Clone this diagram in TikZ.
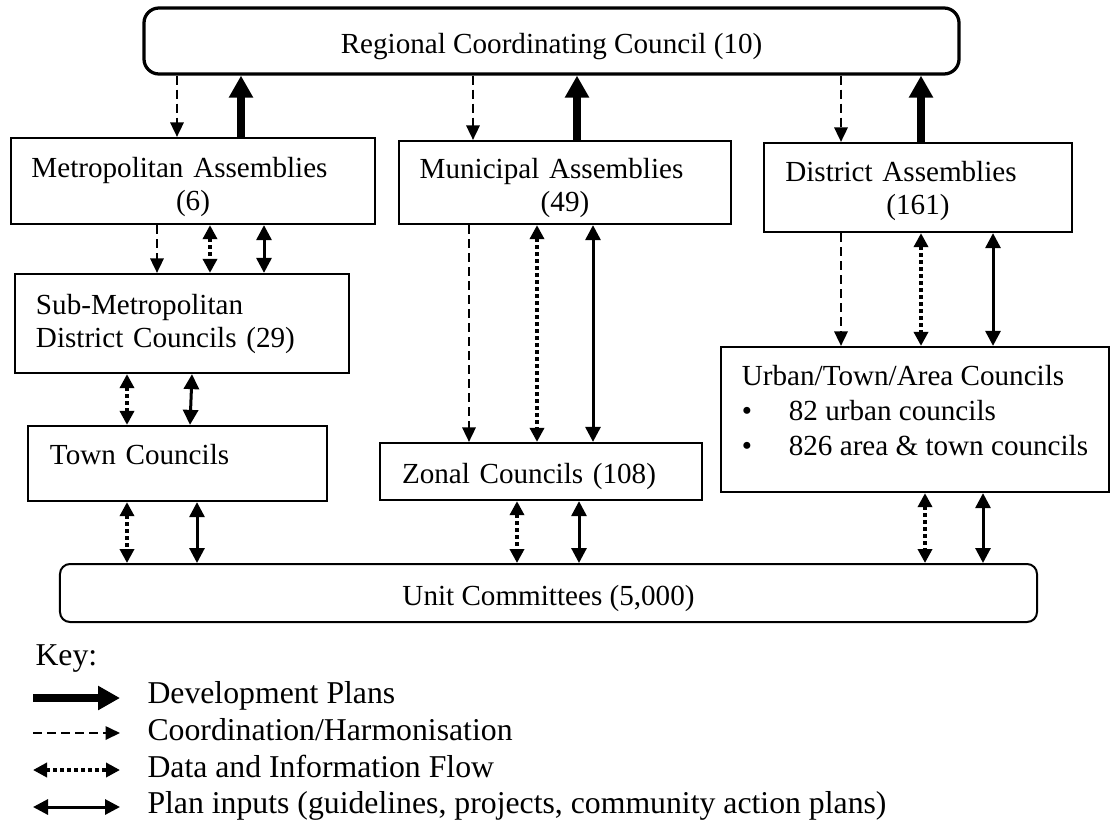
\documentclass[tikz,border=0pt]{standalone}
\usepackage{fontspec}
\setmainfont{Liberation Serif}
\usepackage{tikz}
\usetikzlibrary{arrows.meta,positioning}

\begin{document}
\begin{tikzpicture}[x=0.4pt, y=-0.4pt,
		every node/.style={font=\fontsize{11.65pt}{13.2pt}\selectfont},
		org/.style={rectangle, draw, line width=0.9pt, inner sep=0pt},
		rbox/.style={rectangle, rounded corners=4pt, draw, line width=0.8pt, inner sep=0pt},
		devplan/.style={line width=3.2pt, -{Triangle[length=8.8pt, width=9.2pt]}},
		harmon/.style={line width=0.7pt, dash pattern=on 3.6pt off 2pt, -{Triangle[length=5.8pt, width=5.4pt]}},
		dataflow/.style={line width=1.5pt, dash pattern=on 1.6pt off 1.2pt, {Triangle[length=5.6pt, width=5.6pt]}-{Triangle[length=5.6pt, width=5.6pt]}},
		inputs/.style={line width=1.2pt, {Triangle[length=6pt, width=6pt]}-{Triangle[length=6pt, width=6pt]}},
		keytext/.style={inner sep=0pt, anchor=base west, font=\fontsize{12.7pt}{15pt}\selectfont}]
		
		\useasboundingbox (0,0) rectangle (1112,821);
		
		\node (rcc) [org, line width=1.3pt, rounded corners=6pt, minimum width=326pt, minimum height=26.4pt, text height=12.1pt, text depth=2.1pt] at (551.5,41) {Regional Coordinating Council (10)};
		
		\node (metro) [org, align=center, text width=145.6pt, minimum height=34.4pt, text height=12.9pt] at (193,181) {Metropolitan Assemblies\hspace{10.8pt}\mbox{}\\(6)};
		\node (muni) [org, align=center, text width=132.8pt, minimum height=33.2pt, text height=12.1pt] at (565,182.5) {Municipal Assemblies\hspace{10.8pt}\mbox{}\\(49)};
		\node (dist) [org, align=center, text width=123.2pt, minimum height=35.6pt, text height=10.5pt] at (918,187.5) {District Assemblies\hspace{13.6pt}\mbox{}\\(161)};
		
		\node (submetro) [org, align=left, inner xsep=8.4pt, text width=116.8pt, minimum height=39.6pt] at (182,323.5) {Sub-Metropolitan\\District Councils (29)};
		\node (town) [org, align=left, inner xsep=8.8pt, text width=102pt, minimum height=30pt, text depth=7pt] at (177.5,463.5) {Town Councils};
		\node (zonal) [org, align=left, inner xsep=8.8pt, text width=111.2pt, minimum height=22.8pt, text height=11.3pt, text depth=2.1pt] at (541,471.5) {Zonal Councils (108)};
		\node (urban) [org, align=left, minimum width=155.2pt, minimum height=58pt, text depth=7.5pt, font=\fontsize{11.65pt}{14pt}\selectfont] at (915,419.5) {Urban/Town/Area Councils\\\makebox[18.8pt][l]{\textbullet}82 urban councils\\\makebox[18.8pt][l]{\textbullet}826 area \& town councils};
		
		\node (unit) [rbox, minimum width=390.8pt, minimum height=23.2pt, text height=12.1pt, text depth=2.1pt] at (548.5,593) {Unit Committees (5,000)};
		
		% development plans
		\draw [devplan] (metro.north -| 241,0) -- (rcc.south -| 241,0);
		\draw [devplan] (muni.north -| 577,0) -- (rcc.south -| 577,0);
		\draw [devplan] (dist.north -| 921,0) -- (rcc.south -| 921,0);
		
		% coordination
		\draw [harmon] (rcc.south -| 177,0) -- (metro.north -| 177,0);
		\draw [harmon] (rcc.south -| 473,0) -- (muni.north -| 473,0);
		\draw [harmon] (rcc.south -| 841,0) -- (dist.north -| 841,0);
		\draw [harmon] (metro.south -| 157,0) -- (submetro.north -| 157,0);
		\draw [harmon] (muni.south -| 469,0) -- (zonal.north -| 469,0);
		\draw [harmon] (dist.south -| 841,0) -- (urban.north -| 841,0);
		
		% data and information
		\draw [dataflow] (metro.south -| 210,0) -- (submetro.north -| 210,0);
		\draw [dataflow] (submetro.south -| 127,0) -- (town.north -| 127,0);
		\draw [dataflow] (town.south -| 127,0) -- (unit.north -| 127,0);
		\draw [dataflow] (muni.south -| 537,0) -- (zonal.north -| 537,0);
		\draw [dataflow] (zonal.south -| 517,0) -- (unit.north -| 517,0);
		\draw [dataflow] (dist.south -| 921,0) -- (urban.north -| 921,0);
		\draw [dataflow] (urban.south -| 925,0) -- (unit.north -| 925,0);
		
		% plan inputs
		\draw [inputs] (metro.south -| 264,0) -- (submetro.north -| 264,0);
		\draw [inputs] (submetro.south -| 192,0) -- (town.north -| 190,0);
		\draw [inputs] (town.south -| 197,0) -- (unit.north -| 197,0);
		\draw [inputs] (muni.south -| 593,0) -- (zonal.north -| 593,0);
		\draw [inputs] (zonal.south -| 579,0) -- (unit.north -| 579,0);
		\draw [inputs] (dist.south -| 993,0) -- (urban.north -| 993,0);
		\draw [inputs] (urban.south -| 983,0) -- (unit.north -| 983,0);
		
		% key
		\node (key) [keytext] at (35,665) {Key:};
		\coordinate (k1a) at (33,698);
		\coordinate (k1b) at (120,698);
		\coordinate (k2a) at (33,733);
		\coordinate (k2b) at (120,733);
		\coordinate (k3a) at (33,770);
		\coordinate (k3b) at (120,770);
		\coordinate (k4a) at (33,807);
		\coordinate (k4b) at (120,807);
		
		\draw [devplan] (k1a) -- (k1b);
		\draw [harmon] (k2a) -- (k2b);
		\draw [dataflow] (k3a) -- (k3b);
		\draw [inputs] (k4a) -- (k4b);
		
		\node (k1) [keytext] at ([xshift=10.8pt, yshift=-2pt]k1b) {Development Plans};
		\node (k2) [keytext] at ([xshift=10.8pt, yshift=-2.8pt]k2b) {Coordination/Harmonisation};
		\node (k3) [keytext] at ([xshift=10.8pt, yshift=-2.8pt]k3b) {Data and Information Flow};
		\node (k4) [keytext] at ([xshift=10.8pt, yshift=-2.4pt]k4b) {Plan inputs (guidelines, projects, community action plans)};
		
	\end{tikzpicture}
\end{document}
